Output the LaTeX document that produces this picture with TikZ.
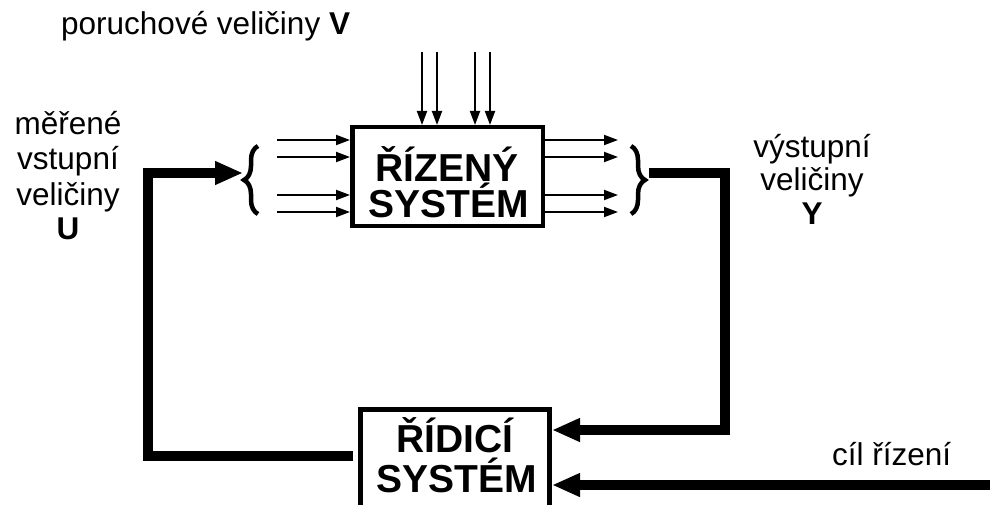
\documentclass[tikz,border=0pt]{standalone}
\usepackage{fontspec}
\setmainfont{Liberation Sans}
\usetikzlibrary{arrows.meta,decorations.pathreplacing}
\begin{document}
\begin{tikzpicture}[x=1pt,y=-1pt,
  box/.style={draw, line width=4.5pt, inner sep=0pt, minimum width=190.5pt, minimum height=98.5pt},
  boxtxt/.style={font=\fontsize{39}{42}\selectfont\bfseries, anchor=base, inner sep=0pt, text height=28pt, text depth=0pt},
  lbl/.style={font=\fontsize{31.5}{35}\selectfont, anchor=base, inner sep=0pt},
  thinarrow/.style={line width=2pt, -{Triangle[length=14pt,width=10pt]}},
  thickarrow/.style={line width=10pt, line join=miter, -{Triangle[length=28pt,width=22pt]}},
  bracestyle/.style={line width=4.5pt, decorate, decoration={brace, amplitude=14pt}},
]
\useasboundingbox (0,0) rectangle (990,505);

% boxes
\node[box] (plant) at (447.5,176.5) {};
\node[box, line width=5pt, minimum width=189pt, minimum height=110pt] (ctrl) at (455,464.5) {};

\node[boxtxt] (pt1) at (447,182) {ŘÍZENÝ};
\node[boxtxt] (pt2) at (449,218) {SYSTÉM};
\node[boxtxt] (ct1) at (455,452) {ŘÍDICÍ};
\node[boxtxt] (ct2) at (457,492) {SYSTÉM};

% labels
\node[lbl, anchor=base west] (vlab) at (61,35) {poruchové veličiny \textbf{V}};
\node[lbl] (u1) at (68,135) {měřené};
\node[lbl] (u2) at (68,170) {vstupní};
\node[lbl] (u3) at (68,205) {veličiny};
\node[lbl] (u4) at (68,240) {\textbf{U}};
\node[lbl] (y1) at (812,158) {výstupní};
\node[lbl] (y2) at (812,191) {veličiny};
\node[lbl] (y3) at (812,224) {\textbf{Y}};
\node[lbl, anchor=base west] (goal) at (832,465) {cíl řízení};

% disturbance arrows
\foreach \x [count=\i] in {422,437,475,490}{
  \coordinate (v\i) at (\x,52);
  \draw[thinarrow] (v\i) -- (v\i |- plant.north);
}
% inputs and outputs
\foreach \y [count=\i] in {140,157,195,212}{
  \coordinate (in\i) at (277,\y);
  \coordinate (out\i) at (618,\y);
  \draw[thinarrow] (in\i) -- (in\i -| plant.west);
  \draw[thinarrow] (out\i -| plant.east) -- (out\i);
}

% braces
\coordinate (lbA) at (258,214);
\coordinate (lbB) at (258,146);
\draw[bracestyle] (lbA) -- (lbB);
\coordinate (rbA) at (631,146);
\coordinate (rbB) at (631,214);
\draw[bracestyle] (rbA) -- (rbB);
\coordinate (lbtip) at (243,173);
\coordinate (rbtip) at (649,173);

% feedback loop
\coordinate (c1) at (148,456);
\coordinate (c2) at (148,173);
\draw[thickarrow] ([xshift=-5pt]ctrl.west |- c1) -- (c1) -- (c2) -- (lbtip);

\coordinate (r1) at (725,173);
\coordinate (r2) at (725,430);
\draw[thickarrow] (rbtip) -- (r1) -- (r2) -- (r2 -| ctrl.east);

\coordinate (g0) at (992,485);
\draw[thickarrow] (g0) -- (g0 -| ctrl.east);
\end{tikzpicture}
\end{document}
